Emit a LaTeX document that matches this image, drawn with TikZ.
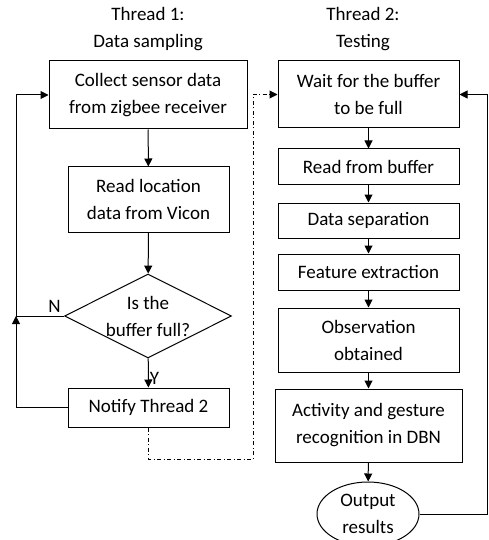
\documentclass[tikz,border=0pt]{standalone}
\usepackage{fontspec}
\setmainfont{Carlito}
\usetikzlibrary{shapes.geometric,arrows.meta}
\tikzset{
  box/.style={draw, line width=1pt, align=center, minimum width=181pt, inner sep=0pt},
  flow/.style={line width=1pt, -{Triangle[length=8pt,width=8pt]}},
  link/.style={line width=1pt}
}
\begin{document}
\begin{tikzpicture}[x=1pt, y=-1pt, font=\fontsize{19}{27}\selectfont]
\useasboundingbox (0,0) rectangle (489,540);
% thread 1
\node[align=center] (title1) at (148,29) {Thread 1:\\Data sampling};
\node[box, minimum width=198pt, minimum height=68pt] (collect) at (148,95) {Collect sensor data\\from zigbee receiver};
\node[box, minimum width=161pt, minimum height=65pt] (readloc) at (148.5,199.5) {Read location\\data from Vicon};
\node[diamond, draw, line width=1pt, minimum width=167pt, minimum height=84pt, inner sep=0pt] (full) at (148,316) {};
\node[align=center] (fulltext) at (full.center) {Is the\\buffer full?};
\node[box, minimum width=161pt, minimum height=39pt] (notify) at (148.5,407.5) {Notify Thread 2};
% thread 2
\node[align=center] (title2) at (363,29) {Thread 2:\\Testing};
\node[box, minimum height=67pt] (wait) at (368.5,94.5) {Wait for the buffer\\to be full};
\node[box, minimum height=35pt] (readbuf) at (368.5,166.5) {Read from buffer};
\node[box, minimum height=35pt] (sep) at (368.5,220.5) {Data separation};
\node[box, minimum height=36pt] (feat) at (368.5,272) {Feature extraction};
\node[box, minimum height=64pt] (obs) at (368.5,340) {Observation\\obtained};
\node[box, minimum width=187pt, minimum height=73pt] (act) at (368.5,425.5) {Activity and gesture\\recognition in DBN};
\node[ellipse, draw, line width=1pt, align=center, minimum width=102pt, minimum height=64pt, inner sep=0pt] (out) at (368,514) {Output\\results};
% turning points
\coordinate (lft) at (16,316);
\coordinate (dd) at (253,459);
\coordinate (rgt) at (487,514);
% connectors
\draw[flow] (collect) -- (readloc);
\draw[flow] (readloc) -- (full);
\draw[flow] (full) -- node[right, pos=0.7, inner sep=1pt] {Y} (notify);
\draw[flow] (notify.west) -| (lft);
\draw[flow] (full.west) -- node[above, pos=0.2] {N} (lft) |- (collect.west);
\draw[flow, dash pattern=on 4pt off 2.5pt on 1pt off 2.5pt] (notify.south) |- (dd) |- (wait.west);
\draw[flow] (wait) -- (readbuf);
\draw[flow] (readbuf) -- (sep);
\draw[flow] (sep) -- (feat);
\draw[flow] (feat) -- (obs);
\draw[flow] (obs) -- (act);
\draw[flow] (act) -- (out);
\draw[flow] (out.east) -- (rgt) |- (wait.east);
\end{tikzpicture}
\end{document}
